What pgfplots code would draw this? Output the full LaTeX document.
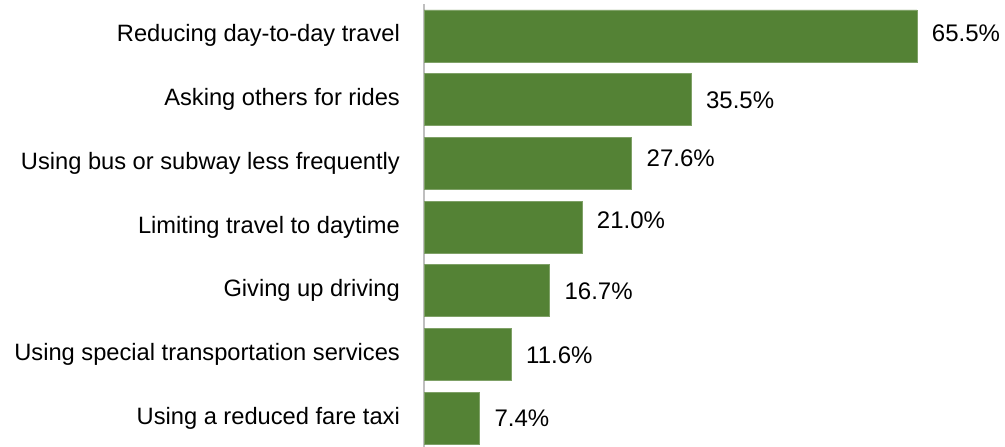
\documentclass[border=0pt]{standalone}
\usepackage{pgfplots}
\pgfplotsset{compat=1.18}
\usepackage{fontspec}
\setmainfont{Liberation Sans}
\definecolor{bargreen}{HTML}{548235}
\definecolor{axisgray}{HTML}{BFBFBF}
\begin{document}
\fontsize{18pt}{21pt}\selectfont
\begin{tikzpicture}
\useasboundingbox (0,0) rectangle (753.75pt,334.5pt);
\begin{axis}[
    at={(318pt,-2.9pt)}, anchor=south west,
    scale only axis,
    width=429pt, height=334.3pt,
    xbar, bar width=39pt,
    xmin=0, xmax=76,
    ymin=-0.5, ymax=6.5,
    y dir=reverse,
    axis x line=none,
    axis y line=left,
    axis line style={-, draw=axisgray, line width=1pt},
    ytick={0,...,6},
    ytick style={draw=none},
    yticklabels={Reducing day-to-day travel, Asking others for rides,
        Using bus or subway less frequently, Limiting travel to daytime,
        Giving up driving, Using special transportation services,
        Using a reduced fare taxi},
    yticklabel style={anchor=east, inner sep=0pt, xshift=-15.8pt,
        font=\fontsize{17.75pt}{21pt}\selectfont,
        text height=13pt, text depth=4pt},
    visualization depends on={\thisrow{dy} \as \labeldy},
    nodes near coords={\pgfmathprintnumber[fixed, fixed zerofill, precision=1]{\pgfplotspointmeta}\%},
    /pgf/number format/assume math mode=true,
    every node near coord/.append style={anchor=west, inner sep=0pt,
        xshift=11pt, yshift=-0.75*\labeldy pt, text=black},
    clip=false,
]
% dy: label offset from bar centre, in px (down is positive)
\addplot[fill=bargreen, draw=bargreen!75!white, line width=0.4pt]
    table[x=val, y=pos, meta=val] {
    val  pos dy
    65.5 0   -2.5
    35.5 1   1
    27.6 2   -4.7
    21.0 3   -6.3
    16.7 4   1
    11.6 5   0.5
    7.4  6   0.5
};
\end{axis}
\end{tikzpicture}
\end{document}
